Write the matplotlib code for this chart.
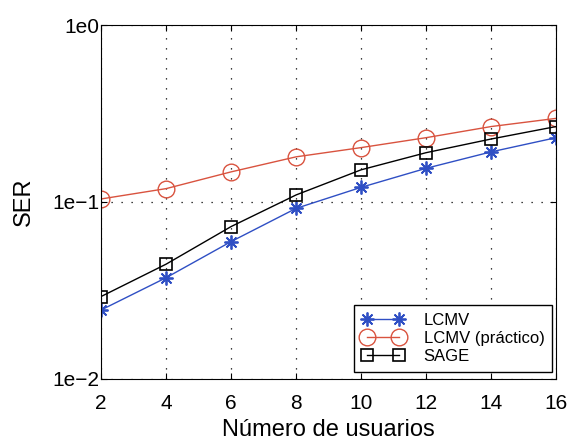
import matplotlib.pyplot as plt
import numpy as np

plt.rcParams['font.family'] = ['Liberation Sans', 'DejaVu Sans']

usuarios = [2, 4, 6, 8, 10, 12, 14, 16]
ser_lcmv = [0.0245, 0.0373, 0.0597, 0.092, 0.121, 0.155, 0.192, 0.231]
ser_lcmv_prac = [0.104, 0.119, 0.148, 0.180, 0.203, 0.231, 0.267, 0.297]
ser_sage = [0.0292, 0.0445, 0.0726, 0.1096, 0.152, 0.190, 0.227, 0.267]
yticks = [1e-2, 1e-1, 1e0]
ytick_labels = ['1e\u22122', '1e\u22121', '1e0']

fig = plt.figure(figsize=(5.68, 4.41), dpi=100)
ax = fig.add_axes([0.178, 0.141, 0.801, 0.802])

ax.plot(usuarios, ser_lcmv, color='#2f4fc4', marker=(8, 2, 0), ms=10, mew=1.3,
        lw=1.0, label='LCMV')
ax.plot(usuarios, ser_lcmv_prac, color='#d9533f', marker='o', ms=12,
        mfc='none', mew=1.0, lw=1.0, label='LCMV (práctico)')
ax.plot(usuarios, ser_sage, color='black', marker='s', ms=9, mfc='none',
        mew=1.2, lw=1.0, label='SAGE')

ax.set_yscale('log')
ax.set_xlim(2, 16)
ax.set_ylim(1e-2, 1e0)
ax.set_xticks(usuarios)
ax.set_yticks(yticks)
ax.set_yticklabels(ytick_labels)
ax.yaxis.set_minor_locator(plt.NullLocator())
ax.tick_params(direction='in', labelsize=15, length=4, top=True, right=True)
ax.tick_params(axis='x', pad=11)
ax.tick_params(axis='y', pad=1.5)
ax.grid(True, color='black', ls=(0, (1, 7)), lw=0.9)

ax.set_xlabel('Número de usuarios', fontsize=17, labelpad=4)
ax.set_ylabel('SER', fontsize=17, labelpad=12)

leg = ax.legend(loc='lower right', bbox_to_anchor=(0.991, 0.02), fontsize=12,
                fancybox=False, framealpha=1, edgecolor='black',
                borderpad=0.45, labelspacing=0.2, handlelength=2.5,
                handletextpad=1.2, borderaxespad=0, numpoints=2)
leg.get_frame().set_linewidth(1.0)

plt.savefig('out.png')
